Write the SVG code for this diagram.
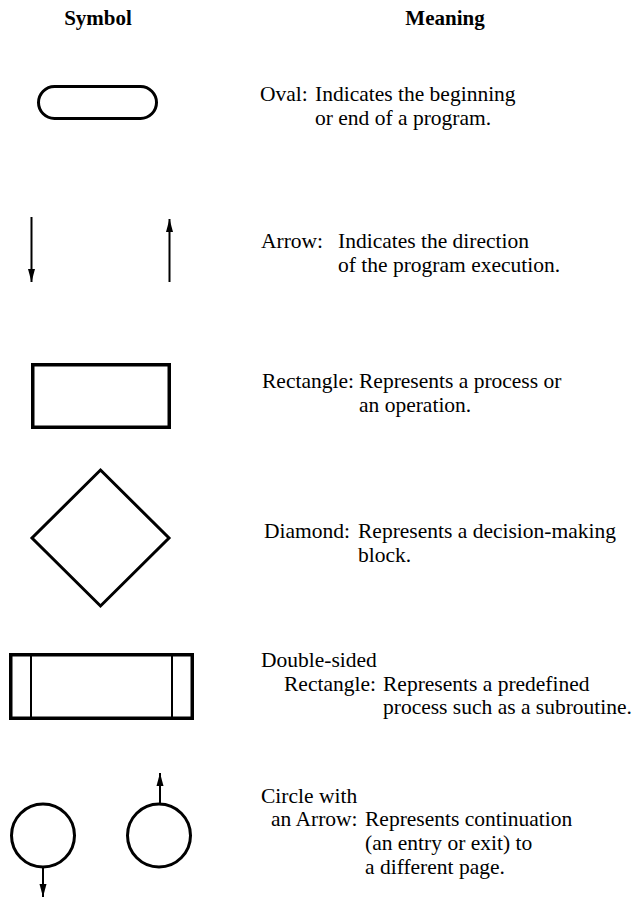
<svg xmlns="http://www.w3.org/2000/svg" width="641" height="898" viewBox="0 0 641 898">
<style>
text{font-family:"Liberation Serif","Times New Roman",serif;font-size:21.5px;fill:#000}
.h{font-weight:bold;font-size:21px}
.s{fill:none;stroke:#000;stroke-width:3}
.t{fill:none;stroke:#000;stroke-width:3.5}
.ln{fill:none;stroke:#000;stroke-width:2}
</style>
<defs>
<marker id="ah" markerUnits="userSpaceOnUse" markerWidth="14" markerHeight="8" refX="13" refY="4" orient="auto">
<path d="M0,0.5 L13,4 L0,7.5 z" fill="#000"/>
</marker>
</defs>
<rect width="641" height="898" fill="#fff"/>
<g id="headers">
<text class="h" x="98" y="25" text-anchor="middle">Symbol</text>
<text class="h" x="445" y="25" text-anchor="middle">Meaning</text>
</g>
<g id="oval">
<rect class="s" x="38.5" y="86.5" width="118" height="32" rx="16"/>
<text x="260" y="101">Oval:</text>
<text x="315" y="101">Indicates the beginning</text>
<text x="315" y="125">or end of a program.</text>
</g>
<g id="arrows">
<line class="ln" x1="31.5" y1="217" x2="31.5" y2="282" marker-end="url(#ah)"/>
<line class="ln" x1="169.5" y1="282" x2="169.5" y2="219" marker-end="url(#ah)"/>
<text x="261" y="248">Arrow:</text>
<text x="338" y="248">Indicates the direction</text>
<text x="338" y="272">of the program execution.</text>
</g>
<g id="rectangle">
<rect class="t" x="32.75" y="364.75" width="136.5" height="62.5"/>
<text x="262" y="388">Rectangle:</text>
<text x="359" y="388">Represents a process or</text>
<text x="359" y="412">an operation.</text>
</g>
<g id="diamond">
<polygon class="s" points="100.5,470 169,538 100.5,606 32,538"/>
<text x="264" y="538">Diamond:</text>
<text x="358" y="538">Represents a decision-making</text>
<text x="358" y="562">block.</text>
</g>
<g id="double-rectangle">
<rect class="t" x="10.75" y="654.75" width="181.5" height="63.5"/>
<line class="ln" x1="31" y1="656" x2="31" y2="717"/>
<line class="ln" x1="172" y1="656" x2="172" y2="717"/>
<text x="261" y="667">Double-sided</text>
<text x="284" y="691">Rectangle:</text>
<text x="383" y="691">Represents a predefined</text>
<text x="383" y="714">process such as a subroutine.</text>
</g>
<g id="circles">
<circle class="s" cx="43" cy="835.5" r="31.5"/>
<circle class="s" cx="159" cy="835.5" r="31.5"/>
<line class="ln" x1="43" y1="867" x2="43" y2="897" marker-end="url(#ah)"/>
<line class="ln" x1="160" y1="804" x2="160" y2="773" marker-end="url(#ah)"/>
<text x="261" y="803">Circle with</text>
<text x="271" y="826">an Arrow:</text>
<text x="365" y="826">Represents continuation</text>
<text x="365" y="850">(an entry or exit) to</text>
<text x="365" y="874">a different page.</text>
</g>
</svg>
